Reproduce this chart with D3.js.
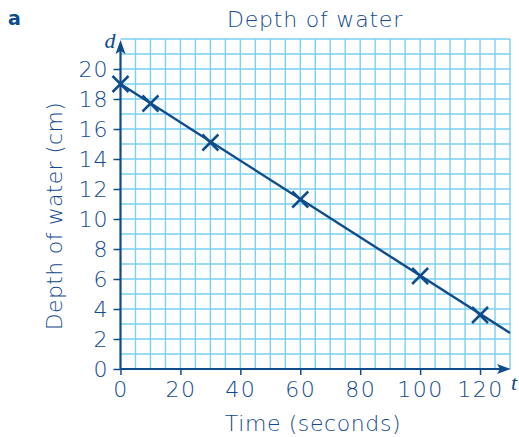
<!DOCTYPE html>
<html><head><meta charset="utf-8">
<script src="https://cdn.jsdelivr.net/npm/d3@7"></script>
<style>body{margin:0;background:#fff}svg{display:block}</style>
</head><body><div id="c"></div>
<script>
const times = [0, 10, 30, 60, 100, 120];
const depths = [19, 17.7, 15.1, 11.3, 6.2, 3.6];
const lineT = [0, 130];
const lineD = [19, 2.4];
const xTicks = [0, 20, 40, 60, 80, 100, 120];
const yTicks = [0, 2, 4, 6, 8, 10, 12, 14, 16, 18, 20];

const W = 519, H = 437;
const font = "'DejaVu Sans', sans-serif";
const fw = 200;
const axisCol = "#0f4c8c", textCol = "#124a90", gridCol = "#79d0f3";
const svg = d3.select("#c").append("svg").attr("width", W).attr("height", H);
const x = d3.scaleLinear().domain([0, 130]).range([120.5, 510]);
const y = d3.scaleLinear().domain([0, 22]).range([369, 39]);

// grid
const g = svg.append("g");
g.selectAll("line.v").data(d3.range(5, 131, 5)).join("line")
  .attr("x1", d => x(d)).attr("x2", d => x(d)).attr("y1", y(0)).attr("y2", y(22))
  .attr("stroke", gridCol).attr("stroke-width", 1.4);
g.selectAll("line.h").data(d3.range(1, 23, 1)).join("line")
  .attr("x1", x(0)).attr("x2", x(130)).attr("y1", d => y(d)).attr("y2", d => y(d))
  .attr("stroke", gridCol).attr("stroke-width", 1.4);

// axes
const xa = svg.append("g").attr("transform", `translate(0,${y(0)})`)
  .call(d3.axisBottom(x).tickValues(xTicks).tickSize(6).tickPadding(6));
xa.select(".domain").remove();
xa.selectAll("line").attr("stroke", axisCol).attr("stroke-width", 1.5).attr("y1", 0);
xa.selectAll("text").attr("fill", textCol).attr("font-family", font).attr("font-weight", fw)
  .attr("font-size", 22).attr("letter-spacing", 1.5).attr("dy", "0.72em");

const ya = svg.append("g").attr("transform", `translate(${x(0)},0)`)
  .call(d3.axisLeft(y).tickValues(yTicks).tickSize(7).tickPadding(5));
ya.select(".domain").remove();
ya.selectAll("line").attr("stroke", axisCol).attr("stroke-width", 1.5);
ya.selectAll("text").attr("fill", textCol).attr("font-family", font).attr("font-weight", fw)
  .attr("font-size", 22).attr("letter-spacing", 1);

// axis lines with arrows
svg.append("line").attr("x1", x(0)).attr("x2", x(0)).attr("y1", y(0)).attr("y2", 44)
  .attr("stroke", axisCol).attr("stroke-width", 2.2);
svg.append("line").attr("x1", x(0)).attr("x2", 505).attr("y1", y(0)).attr("y2", y(0))
  .attr("stroke", axisCol).attr("stroke-width", 2.2);
svg.append("path").attr("d", `M${x(0)},40 L${x(0)-5},54 L${x(0)},51 L${x(0)+5},54 Z`).attr("fill", axisCol);
svg.append("path").attr("d", `M511,${y(0)} L497,${y(0)-5} L500,${y(0)} L497,${y(0)+5} Z`).attr("fill", axisCol);

// line
const line = d3.line().x(d => x(d[0])).y(d => y(d[1]));
svg.append("path").datum(d3.zip(lineT, lineD)).attr("d", line)
  .attr("fill", "none").attr("stroke", axisCol).attr("stroke-width", 2.4);

// markers
const s = 8;
svg.selectAll("path.m").data(d3.zip(times, depths)).join("path")
  .attr("d", d => `M${x(d[0])-s},${y(d[1])-s}L${x(d[0])+s},${y(d[1])+s}M${x(d[0])-s},${y(d[1])+s}L${x(d[0])+s},${y(d[1])-s}`)
  .attr("stroke", axisCol).attr("stroke-width", 2.5).attr("fill", "none");

// texts
svg.append("text").attr("x", 8).attr("y", 25).text("a")
  .attr("font-family", "'DejaVu Sans', sans-serif").attr("font-weight", "bold").attr("font-size", 19).attr("fill", axisCol);
svg.append("text").attr("x", 315).attr("y", 27).attr("text-anchor", "middle").text("Depth of water")
  .attr("font-family", font).attr("font-weight", fw).attr("font-size", 22).attr("letter-spacing", 0.8).attr("fill", textCol);
svg.append("text").attr("x", 313).attr("y", 431).attr("text-anchor", "middle").text("Time (seconds)")
  .attr("font-family", font).attr("font-weight", fw).attr("font-size", 22).attr("letter-spacing", 0.6).attr("fill", textCol);
svg.append("text").attr("transform", "translate(62,216) rotate(-90)").attr("text-anchor", "middle").text("Depth of water (cm)")
  .attr("font-family", font).attr("font-weight", fw).attr("font-size", 22).attr("letter-spacing", 0.3).attr("fill", textCol);
svg.append("text").attr("x", 110).attr("y", 48).attr("text-anchor", "middle").text("d")
  .attr("font-family", "'Liberation Serif', serif").attr("font-style", "italic").attr("font-size", 22).attr("fill", axisCol);
svg.append("text").attr("x", 514).attr("y", 390).attr("text-anchor", "middle").text("t")
  .attr("font-family", "'Liberation Serif', serif").attr("font-style", "italic").attr("font-size", 22).attr("fill", axisCol);
</script></body></html>
